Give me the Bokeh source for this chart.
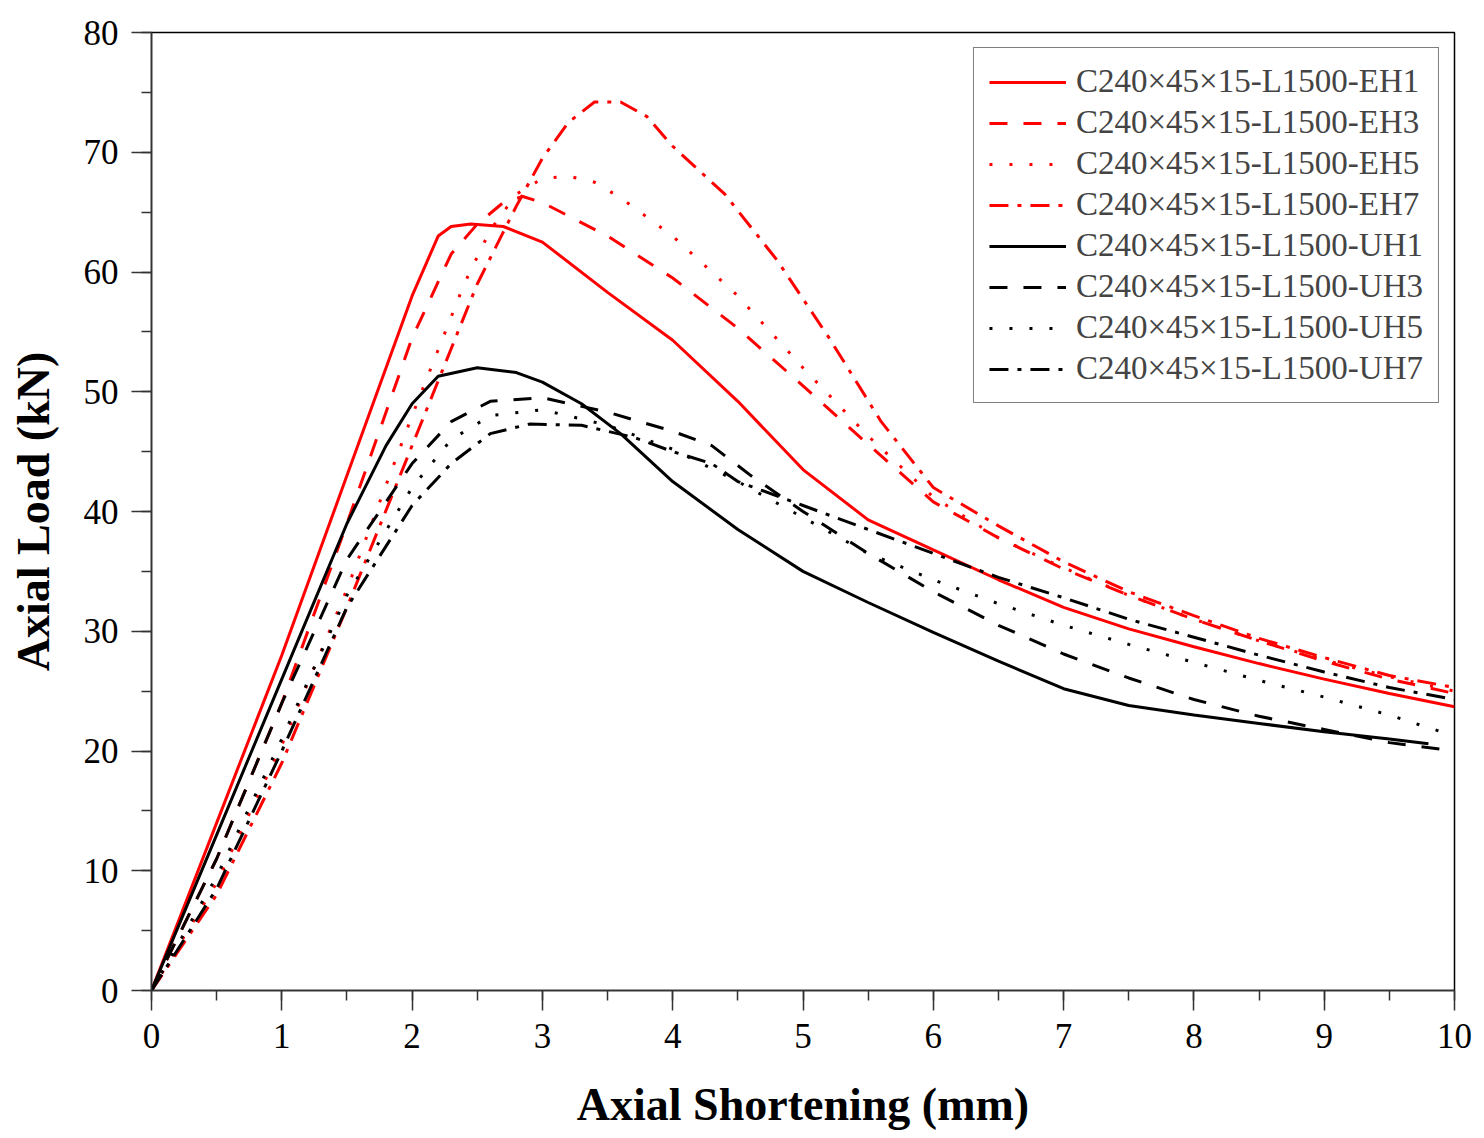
from bokeh.plotting import figure
from bokeh.models import Range1d, SingleIntervalTicker, Legend, LegendItem
from bokeh.embed import file_html
from bokeh.resources import INLINE

# ---- data ----
eh1_x = [0, 0.5, 1.0, 1.5, 2.0, 2.2, 2.3, 2.45, 2.7, 3.0, 3.5, 4.0, 4.5, 5.0, 5.5, 6.0, 6.5, 7.0, 7.5, 8.0, 8.5, 9.0, 9.5, 10.0]
eh1_y = [0, 14.0, 28.0, 43.0, 58.0, 63.0, 63.8, 64.0, 63.8, 62.5, 58.3, 54.3, 49.2, 43.5, 39.3, 36.8, 34.3, 32.0, 30.2, 28.7, 27.3, 26.0, 24.8, 23.7]

eh3_x = [0, 0.5, 1.0, 1.5, 2.0, 2.3, 2.5, 2.7, 2.85, 3.0, 3.5, 4.0, 4.5, 5.0, 5.5, 6.0, 6.5, 7.0, 7.5, 8.0, 8.5, 9.0, 9.5, 10.0]
eh3_y = [0, 11.0, 24.0, 39.0, 54.5, 61.5, 64.0, 65.8, 66.3, 65.8, 63.0, 59.5, 55.3, 50.5, 45.6, 40.8, 37.8, 35.2, 33.0, 31.0, 29.2, 27.5, 26.0, 24.8]

eh5_x = [0, 0.5, 1.0, 1.5, 2.0, 2.4, 2.6, 2.8, 3.0, 3.2, 3.4, 3.6, 4.0, 4.5, 5.0, 5.5, 6.0, 6.5, 7.0, 7.5, 8.0, 8.5, 9.0, 9.5, 10.0]
eh5_y = [0, 9.0, 20.5, 33.5, 48.0, 59.0, 63.5, 66.5, 67.8, 68.0, 67.5, 66.2, 63.0, 58.0, 52.0, 46.3, 41.2, 37.8, 35.3, 33.0, 31.0, 29.2, 27.6, 26.2, 25.0]

eh7_x = [0, 0.5, 1.0, 1.5, 2.0, 2.5, 2.8, 3.0, 3.2, 3.4, 3.6, 3.8, 4.0, 4.4, 4.8, 5.2, 5.6, 6.0, 6.5, 7.0, 7.5, 8.0, 8.5, 9.0, 9.5, 10.0]
eh7_y = [0, 8.0, 19.0, 32.0, 45.5, 59.0, 65.5, 69.5, 72.5, 74.2, 74.2, 73.0, 70.5, 66.5, 61.0, 54.5, 47.5, 42.0, 38.8, 35.8, 33.3, 31.3, 29.4, 27.8, 26.3, 25.3]

uh1_x = [0, 0.5, 1.0, 1.5, 1.8, 2.0, 2.2, 2.5, 2.8, 3.0, 3.3, 3.6, 4.0, 4.5, 5.0, 5.5, 6.0, 6.5, 7.0, 7.5, 8.0, 8.5, 9.0, 9.5, 9.8]
uh1_y = [0, 13.0, 26.0, 39.0, 45.5, 49.0, 51.3, 52.0, 51.6, 50.8, 49.0, 46.5, 42.5, 38.5, 35.0, 32.4, 29.9, 27.5, 25.2, 23.8, 23.0, 22.3, 21.6, 21.0, 20.6]

uh3_x = [0, 0.5, 1.0, 1.5, 2.0, 2.3, 2.6, 3.0, 3.5, 4.0, 4.3, 4.6, 5.0, 5.5, 6.0, 6.5, 7.0, 7.5, 8.0, 8.5, 9.0, 9.5, 10.0]
uh3_y = [0, 11.0, 24.0, 36.0, 44.0, 47.5, 49.2, 49.5, 48.3, 46.7, 45.5, 43.0, 40.0, 36.5, 33.3, 30.5, 28.1, 26.1, 24.3, 22.9, 21.8, 20.7, 20.0]

uh5_x = [0, 0.5, 1.0, 1.5, 2.0, 2.3, 2.6, 3.0, 3.5, 4.0, 4.5, 5.0, 5.5, 6.0, 6.5, 7.0, 7.5, 8.0, 8.5, 9.0, 9.5, 9.9]
uh5_y = [0, 9.5, 21.0, 33.0, 42.0, 46.0, 48.0, 48.5, 47.2, 45.2, 42.5, 39.5, 36.5, 34.3, 32.3, 30.5, 28.9, 27.4, 25.9, 24.5, 23.0, 21.6]

uh7_x = [0, 0.5, 1.0, 1.5, 2.0, 2.3, 2.6, 2.9, 3.3, 3.7, 4.0, 4.3, 4.5, 5.0, 5.5, 6.0, 6.5, 7.0, 7.5, 8.0, 8.5, 9.0, 9.5, 10.0]
uh7_y = [0, 8.5, 20.0, 32.0, 40.5, 44.0, 46.5, 47.3, 47.2, 46.2, 45.0, 44.0, 42.5, 40.5, 38.5, 36.5, 34.5, 32.8, 31.0, 29.5, 28.0, 26.6, 25.3, 24.3]

labels = ["C240×45×15-L1500-EH1", "C240×45×15-L1500-EH3", "C240×45×15-L1500-EH5", "C240×45×15-L1500-EH7",
          "C240×45×15-L1500-UH1", "C240×45×15-L1500-UH3", "C240×45×15-L1500-UH5", "C240×45×15-L1500-UH7"]
x_title = "Axial Shortening (mm)"
y_title = "Axial Load (kN)"

series = [
    (eh1_x, eh1_y, "#ff0000", "solid"),
    (eh3_x, eh3_y, "#ff0000", "18 16"),
    (eh5_x, eh5_y, "#ff0000", "3 17"),
    (eh7_x, eh7_y, "#ff0000", "19 9 4 9"),
    (uh1_x, uh1_y, "#000000", "solid"),
    (uh3_x, uh3_y, "#000000", "18 16"),
    (uh5_x, uh5_y, "#000000", "3 17"),
    (uh7_x, uh7_y, "#000000", "19 9 4 9"),
]

FONT = "Liberation Serif"

p = figure(width=1474, height=1132, output_backend="svg", toolbar_location=None,
           x_range=Range1d(0, 10), y_range=Range1d(0, 80),
           min_border_left=151, min_border_right=20, min_border_top=32, min_border_bottom=140)
p.xgrid.visible = False
p.ygrid.visible = False
p.outline_line_color = "#000000"
p.outline_line_width = 1.5
p.background_fill_color = "white"
p.border_fill_color = "white"

items = []
for (xs, ys, col, dash), lab in zip(series, labels):
    r = p.line(xs, ys, line_color=col, line_width=3, line_dash=dash)
    items.append(LegendItem(label=lab, renderers=[r]))

p.xaxis.ticker = SingleIntervalTicker(interval=1, num_minor_ticks=2)
p.yaxis.ticker = SingleIntervalTicker(interval=10, num_minor_ticks=2)
for ax in (p.xaxis[0], p.yaxis[0]):
    ax.axis_line_width = 1.5
    ax.axis_line_color = "#333333"
    ax.major_tick_in = 0
    ax.major_tick_out = 20
    ax.minor_tick_in = 0
    ax.minor_tick_out = 10
    ax.major_tick_line_width = 1.5
    ax.minor_tick_line_width = 1.5
    ax.major_tick_line_color = "#333333"
    ax.minor_tick_line_color = "#333333"
    ax.major_label_text_font = FONT
    ax.major_label_text_font_size = "35px"
    ax.major_label_text_color = "#000000"
    ax.axis_label_text_font = FONT
    ax.axis_label_text_font_style = "bold"
    ax.axis_label_text_font_size = "46px"
    ax.axis_label_text_color = "#000000"
    ax.major_label_standoff = 13

p.xaxis.axis_label = x_title
p.yaxis.axis_label = y_title
p.xaxis.axis_label_standoff = 28
p.yaxis.axis_label_standoff = 22

legend = Legend(items=items, location="top_right", margin=15,
                label_text_font=FONT, label_text_font_size="33px",
                glyph_width=77, glyph_height=20, label_standoff=10,
                spacing=4, padding=15,
                border_line_color="#000000", border_line_width=1.5,
                background_fill_alpha=1.0)
p.add_layout(legend)

open("out.html", "w").write(file_html(p, INLINE))
